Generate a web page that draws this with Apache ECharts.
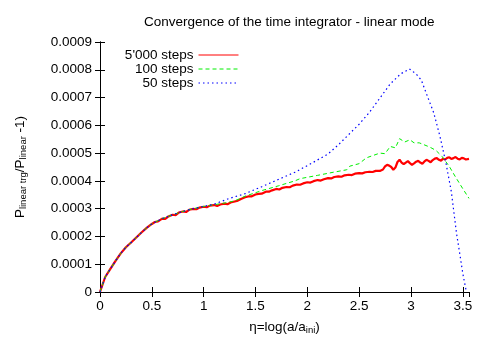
<!DOCTYPE html>
<html>
<head>
<meta charset="utf-8">
<title>linear mode</title>
<script src="https://cdn.jsdelivr.net/npm/echarts@6/dist/echarts.min.js"></script>
<style>
    body { margin: 0; background: #fff; }
    #main { width: 490px; height: 350px; }
</style>
</head>
<body>
<div id="main"></div>
<script type="text/javascript">
    // 5'000 steps (noisy red curve)
    var eta5000 = [0, 0.05, 0.1, 0.15, 0.2, 0.25, 0.3, 0.35, 0.4, 0.45, 0.5, 0.53, 0.56, 0.6, 0.63, 0.66, 0.7, 0.73, 0.76,
        0.8, 0.83, 0.86, 0.9, 0.93, 0.96, 1.0, 1.03, 1.06, 1.1, 1.13, 1.16, 1.2, 1.23, 1.26, 1.3, 1.33, 1.36, 1.4, 1.43,
        1.46, 1.5, 1.53, 1.56, 1.6, 1.63, 1.66, 1.7, 1.73, 1.76, 1.8, 1.83, 1.86, 1.9, 1.93, 1.96, 2.0, 2.03, 2.06,
        2.1, 2.13, 2.16, 2.2, 2.23, 2.26, 2.3, 2.33, 2.36, 2.4, 2.43, 2.46, 2.5, 2.53, 2.56, 2.6, 2.63, 2.66, 2.7,
        2.73, 2.75, 2.77, 2.79, 2.81, 2.83, 2.85, 2.87, 2.89, 2.91, 2.93, 2.95, 2.97, 2.99, 3.01, 3.03, 3.05, 3.07,
        3.09, 3.11, 3.13, 3.15, 3.17, 3.19, 3.21, 3.23, 3.25, 3.27, 3.29, 3.31, 3.33, 3.35, 3.37, 3.39, 3.41, 3.43,
        3.45, 3.47, 3.49, 3.51, 3.53, 3.56];
    var steps5000 = [0, 0.000054, 0.000083, 0.000112, 0.000139, 0.000161, 0.000178, 0.000196, 0.000214, 0.000231,
        0.000245, 0.000252, 0.000254, 0.000264, 0.000263, 0.000272, 0.000278, 0.000277, 0.000286,
        0.000290, 0.000288, 0.000296, 0.000299, 0.000298, 0.000304, 0.000307, 0.000305, 0.000311, 0.000313,
        0.000310, 0.000315, 0.000318, 0.000316, 0.000322, 0.000326, 0.000329, 0.000335, 0.000341, 0.000344,
        0.000344, 0.000351, 0.000353, 0.000354, 0.000361, 0.000361, 0.000366, 0.000371, 0.000369, 0.000375,
        0.000378, 0.000377, 0.000383, 0.000387, 0.000386, 0.000391, 0.000395, 0.000394, 0.000399, 0.000403,
        0.000401, 0.000406, 0.000410, 0.000409, 0.000414, 0.000416, 0.000415, 0.000420, 0.000422, 0.000421,
        0.000426, 0.000428, 0.000427, 0.000431, 0.000433, 0.000432, 0.000436, 0.000436, 0.000441, 0.000452,
        0.000458, 0.000455, 0.000450, 0.000440, 0.000448, 0.000468, 0.000476, 0.000466, 0.000460, 0.000466,
        0.000471, 0.000464, 0.000458, 0.000463, 0.000469, 0.000472, 0.000466, 0.000462, 0.000470, 0.000476,
        0.000472, 0.000467, 0.000475, 0.000480, 0.000482, 0.000476, 0.000473, 0.000480, 0.000477, 0.000483,
        0.000485, 0.000479, 0.000482, 0.000486, 0.000480, 0.000477, 0.000483, 0.000481, 0.000477, 0.000479];

    // 100 steps (green dashed)
    var eta100 = [0, 0.05, 0.1, 0.15, 0.2, 0.25, 0.3, 0.35, 0.4, 0.45, 0.5, 0.55, 0.6, 0.7, 0.8, 0.9, 1.0, 1.1, 1.2, 1.3,
        1.4, 1.56, 1.72, 1.88, 1.93, 2.1, 2.25, 2.38, 2.41, 2.5, 2.57, 2.7, 2.75, 2.8, 2.85, 2.89, 2.94, 2.99, 3.03,
        3.08, 3.18, 3.24, 3.3, 3.37, 3.43, 3.5, 3.56];
    var steps100 = [0, 0.000054, 0.000083, 0.000112, 0.000139, 0.000161, 0.000178, 0.000196, 0.000214, 0.000231,
        0.000245, 0.000255, 0.000264, 0.000278, 0.00029, 0.0003, 0.000308, 0.000314, 0.00032, 0.000328,
        0.000345, 0.000365, 0.000382, 0.0004, 0.000408, 0.00042, 0.000431, 0.00044, 0.000453, 0.000462,
        0.000483, 0.0005, 0.000498, 0.000524, 0.000519, 0.000552, 0.00054, 0.000548, 0.000537,
        0.000537, 0.000522, 0.00051, 0.000488, 0.000452, 0.000414, 0.000372, 0.000337];

    // 50 steps (blue dotted)
    var eta50 = [0, 0.05, 0.1, 0.15, 0.2, 0.25, 0.3, 0.35, 0.4, 0.45, 0.5, 0.55, 0.6, 0.7, 0.8, 0.9, 1.0, 1.1, 1.24,
        1.4, 1.56, 1.72, 1.88, 2.04, 2.2, 2.3, 2.4, 2.5, 2.6, 2.7, 2.8, 2.9, 2.985, 3.05, 3.1, 3.15, 3.22, 3.28,
        3.34, 3.39, 3.44, 3.47, 3.5, 3.535];
    var steps50 = [0, 0.000054, 0.000083, 0.000112, 0.000139, 0.000161, 0.000178, 0.000196, 0.000214, 0.000231,
        0.000245, 0.000255, 0.000264, 0.000278, 0.00029, 0.0003, 0.000308, 0.000316, 0.000336,
        0.000354, 0.000379, 0.000405, 0.000431, 0.000463, 0.000497, 0.00053, 0.000567, 0.000604, 0.000647,
        0.000698, 0.000749, 0.000785, 0.000803, 0.000785, 0.000763, 0.000713, 0.000645, 0.00056,
        0.00046, 0.00036, 0.00021, 0.00014, 0.000067, 0];

    var xTicks = [0, 0.5, 1, 1.5, 2, 2.5, 3, 3.5];

    function pairs(xs, ys) {
        var out = [];
        for (var i = 0; i < xs.length; i++) {
            out.push([xs[i], ys[i]]);
        }
        return out;
    }

    var font = 'Liberation Sans, Arial, sans-serif';
    var fs = 13.5;
    var sub = { fontSize: 9.5, fontFamily: font, color: '#000', padding: [6, 0, 0, 0] };
    var main = { fontSize: fs, fontFamily: font, color: '#000' };

    var myChart = echarts.init(document.getElementById('main'));
    var option = {
        animation: false,
        backgroundColor: '#fff',
        title: {
            text: 'Convergence of the time integrator - linear mode',
            left: 139,
            top: 10,
            textStyle: { fontSize: fs, fontWeight: 'normal', color: '#000', fontFamily: font }
        },
        legend: {
            orient: 'vertical',
            align: 'right',
            right: 246,
            top: 43,
            itemWidth: 40,
            itemHeight: 10,
            itemGap: 0,
            itemStyle: { opacity: 0 },
            lineStyle: { width: 1 },
            textStyle: { fontSize: fs, lineHeight: 13, color: '#000', fontFamily: font },
            data: ["5'000 steps", '100 steps', '50 steps']
        },
        grid: { left: 100, right: 21, top: 42, bottom: 58 },
        xAxis: [
            {
                type: 'value',
                min: 0,
                max: 3.56,
                interval: 0.5,
                name: '{m|η=log(a/a}{s|ini}{m|)}',
                nameLocation: 'middle',
                nameGap: 27,
                nameTextStyle: { rich: { m: main, s: sub } },
                axisLine: { lineStyle: { color: '#000', width: 1 } },
                axisTick: { inside: true, length: 5, lineStyle: { color: '#000' } },
                axisLabel: {
                    color: '#000', fontSize: fs, fontFamily: font, margin: 7,
                    showMaxLabel: false,
                    formatter: function (v) { return xTicks.indexOf(v) >= 0 ? String(v) : ''; }
                },
                splitLine: { show: false }
            },
            {
                type: 'value',
                position: 'top',
                min: 0,
                max: 3.56,
                interval: 0.5,
                axisLine: { lineStyle: { color: '#000', width: 1 } },
                axisTick: { inside: true, length: 5, lineStyle: { color: '#000' } },
                axisLabel: { show: false },
                splitLine: { show: false }
            }
        ],
        yAxis: [
            {
                type: 'value',
                min: 0,
                max: 0.0009,
                interval: 0.0001,
                name: '{m|P}{s|linear trg}{m|/P}{s|linear}{m| -1)}',
                nameLocation: 'middle',
                nameRotate: 90,
                nameGap: 72,
                nameTextStyle: { rich: { m: main, s: sub } },
                axisLine: { show: true, lineStyle: { color: '#000', width: 1 } },
                axisTick: { show: true, inside: true, length: 5, lineStyle: { color: '#000' } },
                axisLabel: {
                    color: '#000', fontSize: fs, fontFamily: font, margin: 8,
                    formatter: function (v) { return v === 0 ? '0' : v.toFixed(4); }
                },
                splitLine: { show: false }
            },
            {
                type: 'value',
                position: 'right',
                min: 0,
                max: 0.0009,
                interval: 0.0001,
                axisLine: { show: true, lineStyle: { color: '#000', width: 1 } },
                axisTick: { show: true, inside: true, length: 5, lineStyle: { color: '#000' } },
                axisLabel: { show: false },
                splitLine: { show: false }
            }
        ],
        series: [
            {
                name: "5'000 steps",
                type: 'line',
                symbol: 'none',
                color: '#ff0000',
                lineStyle: { width: 2.2, color: '#ff0000' },
                data: pairs(eta5000, steps5000),
                z: 3
            },
            {
                name: '100 steps',
                type: 'line',
                symbol: 'none',
                color: '#00ee00',
                lineStyle: { width: 1, color: '#00ee00', type: [4, 3] },
                data: pairs(eta100, steps100),
                z: 4
            },
            {
                name: '50 steps',
                type: 'line',
                symbol: 'none',
                color: '#0000ff',
                lineStyle: { width: 1.2, color: '#0000ff', type: [1.5, 3] },
                data: pairs(eta50, steps50),
                z: 5
            }
        ]
    };
    myChart.setOption(option);
</script>
</body>
</html>
